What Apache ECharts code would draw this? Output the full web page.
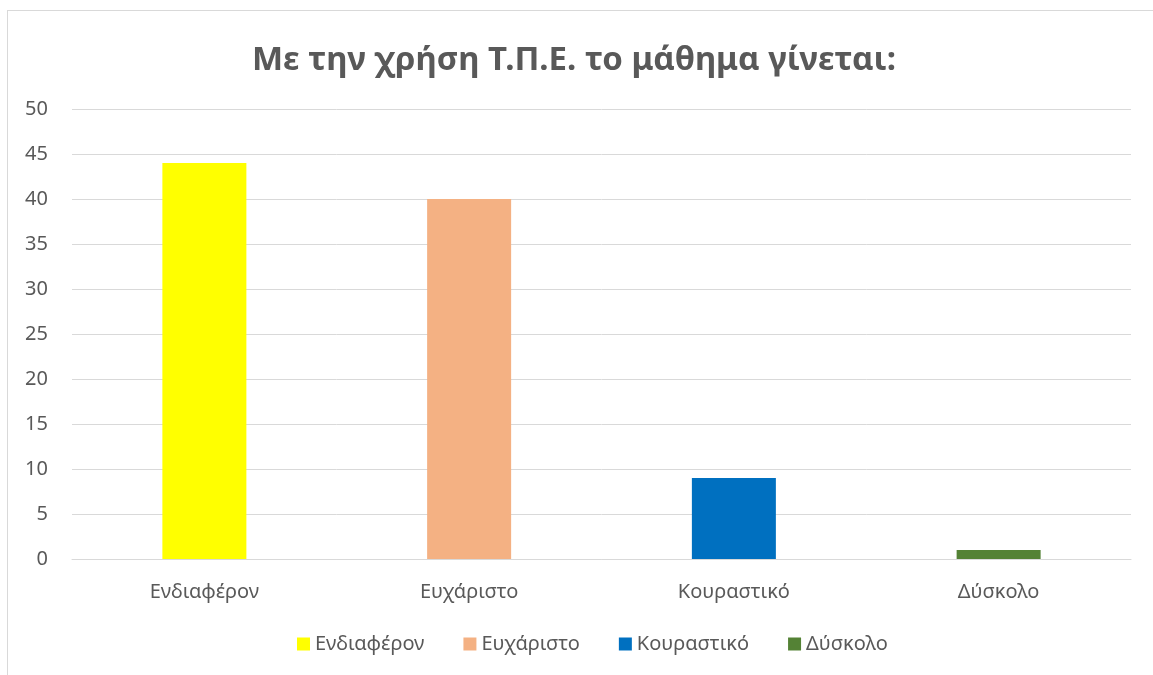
<!DOCTYPE html>
<html>
<head>
<meta charset="utf-8">
<script src="https://cdn.jsdelivr.net/npm/echarts@6/dist/echarts.min.js"></script>
<style>
    html, body { margin: 0; padding: 0; background: #fff; }
    #frame { position: absolute; left: 7px; top: 10px; width: 1160px; height: 680px; border: 1px solid #d9d9d9; }
    #chart { position: absolute; left: 0; top: 0; width: 1153px; height: 675px; }
</style>
</head>
<body>
<div id="frame"></div>
<div id="chart"></div>
<script>
const categories = ['Ενδιαφέρον', 'Ευχάριστο', 'Κουραστικό', 'Δύσκολο'];
const values = [44, 40, 9, 1];
const colors = ['#FFFF00', '#F4B183', '#0070C0', '#548235'];

function renderChart() {
    const dom = document.getElementById('chart');
    const myChart = echarts.init(dom);
    const font = 'Noto Sans';
    const series = categories.map((name, i) => ({
        name: name,
        type: 'bar',
        stack: 'one',
        barWidth: 84,
        itemStyle: { color: colors[i] },
        data: values.map((v, j) => (j === i ? v : '-'))
    }));
    const option = {
        backgroundColor: 'transparent',
        animation: false,
        title: {
            text: 'Με την χρήση Τ.Π.Ε. το μάθημα γίνεται:',
            left: 569,
            textAlign: 'center',
            top: 39,
            textStyle: { color: '#595959', fontSize: 33, fontWeight: 'bold', fontFamily: font }
        },
        legend: {
            bottom: 16,
            left: 292,
            itemWidth: 13,
            itemHeight: 13,
            itemGap: 39,
            icon: 'rect',
            textStyle: { color: '#595959', fontSize: 20, fontFamily: font },
            data: categories
        },
        grid: { left: 72, right: 22, top: 109, bottom: 116 },
        xAxis: {
            type: 'category',
            data: categories,
            axisLine: { lineStyle: { color: '#d9d9d9', width: 1 } },
            axisTick: { show: false },
            axisLabel: { color: '#595959', fontSize: 20, fontFamily: font, margin: 23 }
        },
        yAxis: {
            type: 'value',
            min: 0,
            max: 50,
            interval: 5,
            axisLine: { show: false },
            axisTick: { show: false },
            splitLine: { lineStyle: { color: '#d9d9d9', width: 1 } },
            axisLabel: { color: '#595959', fontSize: 20, fontFamily: font, margin: 24 }
        },
        series: series
    };
    myChart.setOption(option);
    window.addEventListener('resize', () => myChart.resize());
}

renderChart();
</script>
</body>
</html>
